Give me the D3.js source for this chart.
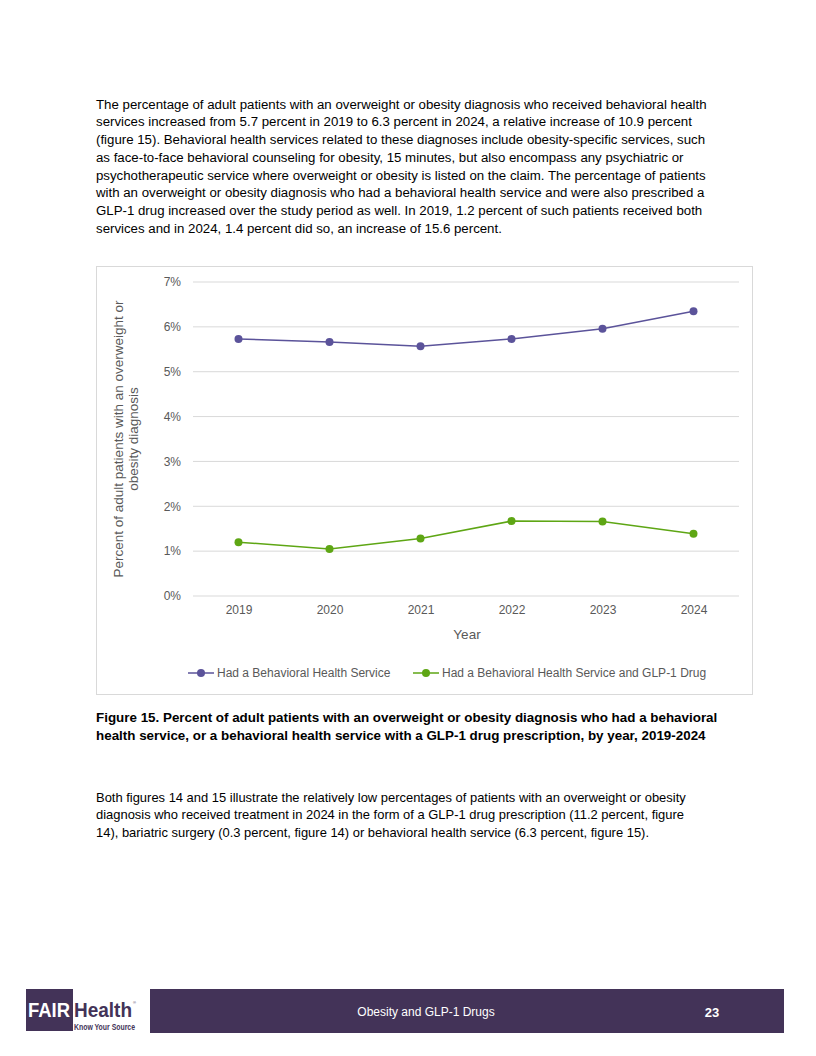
<!DOCTYPE html>
<html><head><meta charset="utf-8">
<script src="https://cdn.jsdelivr.net/npm/d3@7"></script>
<style>body{margin:0;background:#fff}svg{display:block}</style>
</head><body>
<svg id="page" width="816" height="1056"></svg>
<script>
const years = ["2019","2020","2021","2022","2023","2024"];
const behavioral = [5.73, 5.66, 5.57, 5.73, 5.96, 6.35];
const behavioralGlp1 = [1.20, 1.05, 1.28, 1.67, 1.66, 1.39];
const yTicks = [0,1,2,3,4,5,6,7];
const seriesNames = ["Had a Behavioral Health Service", "Had a Behavioral Health Service and GLP-1 Drug"];
const seriesColors = ["#5b539a", "#5ea614"];

const para1 = [
"The percentage of adult patients with an overweight or obesity diagnosis who received behavioral health",
"services increased from 5.7 percent in 2019 to 6.3 percent in 2024, a relative increase of 10.9 percent",
"(figure 15). Behavioral health services related to these diagnoses include obesity-specific services, such",
"as face-to-face behavioral counseling for obesity, 15 minutes, but also encompass any psychiatric or",
"psychotherapeutic service where overweight or obesity is listed on the claim. The percentage of patients",
"with an overweight or obesity diagnosis who had a behavioral health service and were also prescribed a",
"GLP-1 drug increased over the study period as well. In 2019, 1.2 percent of such patients received both",
"services and in 2024, 1.4 percent did so, an increase of 15.6 percent."];
const caption = [
"Figure 15. Percent of adult patients with an overweight or obesity diagnosis who had a behavioral",
"health service, or a behavioral health service with a GLP-1 drug prescription, by year, 2019-2024"];
const para2 = [
"Both figures 14 and 15 illustrate the relatively low percentages of patients with an overweight or obesity",
"diagnosis who received treatment in 2024 in the form of a GLP-1 drug prescription (11.2 percent, figure",
"14), bariatric surgery (0.3 percent, figure 14) or behavioral health service (6.3 percent, figure 15)."];

const svg = d3.select("#page");
const F = "'Liberation Sans', Arial, sans-serif";

function block(lines, x, y0, lh, opts) {
  const t = svg.append("g");
  lines.forEach((l,i)=>{
    t.append("text").attr("x",x).attr("y",y0+i*lh)
      .attr("font-family",F).attr("font-size",opts.size).attr("font-weight",opts.weight||"normal")
      .attr("fill","#000").text(l);
  });
}
block(para1, 96, 108.5, 17.75, {size:13.25});
block(caption, 96, 721.5, 18, {size:13.4, weight:"bold"});
block(para2, 96, 801.5, 17.75, {size:12.95});

// chart frame
svg.append("rect").attr("x",96.5).attr("y",266.5).attr("width",656).attr("height",428)
  .attr("fill","#fff").attr("stroke","#d9d9d9").attr("stroke-width",1);

const x = d3.scalePoint().domain(years).range([193,739]).padding(0.5);
const y = d3.scaleLinear().domain([0,7]).range([596,282]);

// gridlines
svg.append("g").selectAll("line").data(yTicks).join("line")
  .attr("x1",193).attr("x2",739).attr("y1",d=>y(d)).attr("y2",d=>y(d))
  .attr("stroke","#d9d9d9").attr("stroke-width",1);

// y axis labels
const yAxis = d3.axisLeft(y).tickValues(yTicks).tickFormat(d=>d+"%").tickSize(0).tickPadding(0);
const yg = svg.append("g").attr("transform","translate(181,0)").call(yAxis);
yg.select(".domain").remove();
yg.selectAll("text").attr("font-family",F).attr("font-size",12).attr("fill","#595959");

// x axis labels
const xAxis = d3.axisBottom(x).tickSize(0).tickPadding(0);
const xg = svg.append("g").attr("transform","translate(0,605)").call(xAxis);
xg.select(".domain").remove();
xg.selectAll("text").attr("font-family",F).attr("font-size",12).attr("fill","#595959").attr("dy","0.71em");

// axis titles
svg.append("text").attr("x",467).attr("y",638.5).attr("text-anchor","middle")
  .attr("font-family",F).attr("font-size",13.5).attr("fill","#595959").text("Year");
const yt = svg.append("text").attr("transform","translate(123,439) rotate(-90)").attr("text-anchor","middle")
  .attr("font-family",F).attr("font-size",13.5).attr("fill","#595959");
yt.append("tspan").attr("x",0).attr("y",0).text("Percent of adult patients with an overweight or");
yt.append("tspan").attr("x",0).attr("y",15.2).text("obesity diagnosis");

// lines
const line = d3.line().x((d,i)=>x(years[i])).y(d=>y(d));
[behavioral, behavioralGlp1].forEach((s,k)=>{
  svg.append("path").datum(s).attr("d",line).attr("fill","none")
    .attr("stroke",seriesColors[k]).attr("stroke-width",1.5);
  svg.append("g").selectAll("circle").data(s).join("circle")
    .attr("cx",(d,i)=>x(years[i])).attr("cy",d=>y(d)).attr("r",4).attr("fill",seriesColors[k]);
});

// legend
const legendX = [188, 413];
seriesNames.forEach((n,k)=>{
  const g = svg.append("g").attr("transform",`translate(${legendX[k]},673)`);
  g.append("line").attr("x1",0).attr("x2",26).attr("stroke",seriesColors[k]).attr("stroke-width",1.5);
  g.append("circle").attr("cx",13).attr("r",4).attr("fill",seriesColors[k]);
  g.append("text").attr("x",29).attr("y",4.3).attr("font-family",F).attr("font-size",12)
    .attr("fill","#595959").text(n);
});

// footer
const purple = "#433358";
svg.append("rect").attr("x",150).attr("y",989).attr("width",634).attr("height",44).attr("fill",purple);
svg.append("text").attr("x",426).attr("y",1016).attr("text-anchor","middle").attr("font-family",F)
  .attr("font-size",12).attr("fill","#fff").text("Obesity and GLP-1 Drugs");
svg.append("text").attr("x",712).attr("y",1017).attr("text-anchor","middle").attr("font-family",F)
  .attr("font-size",13).attr("font-weight","bold").attr("fill","#fff").text("23");
// logo
svg.append("rect").attr("x",26).attr("y",989).attr("width",47).attr("height",42).attr("fill",purple);
svg.append("text").attr("x",28).attr("y",1016.5).attr("font-family",F)
  .attr("font-size",20).attr("font-weight","bold").attr("fill","#fff")
  .attr("textLength",42).attr("lengthAdjust","spacingAndGlyphs").text("FAIR");
svg.append("text").attr("x",74).attr("y",1016.5).attr("font-family",F)
  .attr("font-size",20).attr("font-weight","bold").attr("fill",purple)
  .attr("textLength",58).attr("lengthAdjust","spacingAndGlyphs").text("Health");
svg.append("text").attr("x",133).attr("y",1004).attr("font-family",F)
  .attr("font-size",4).attr("fill",purple).text("®");
svg.append("text").attr("x",74).attr("y",1029.5).attr("font-family",F)
  .attr("font-size",8.5).attr("font-weight","bold").attr("fill",purple)
  .attr("textLength",61).attr("lengthAdjust","spacingAndGlyphs").text("Know Your Source");
</script>
</body></html>
